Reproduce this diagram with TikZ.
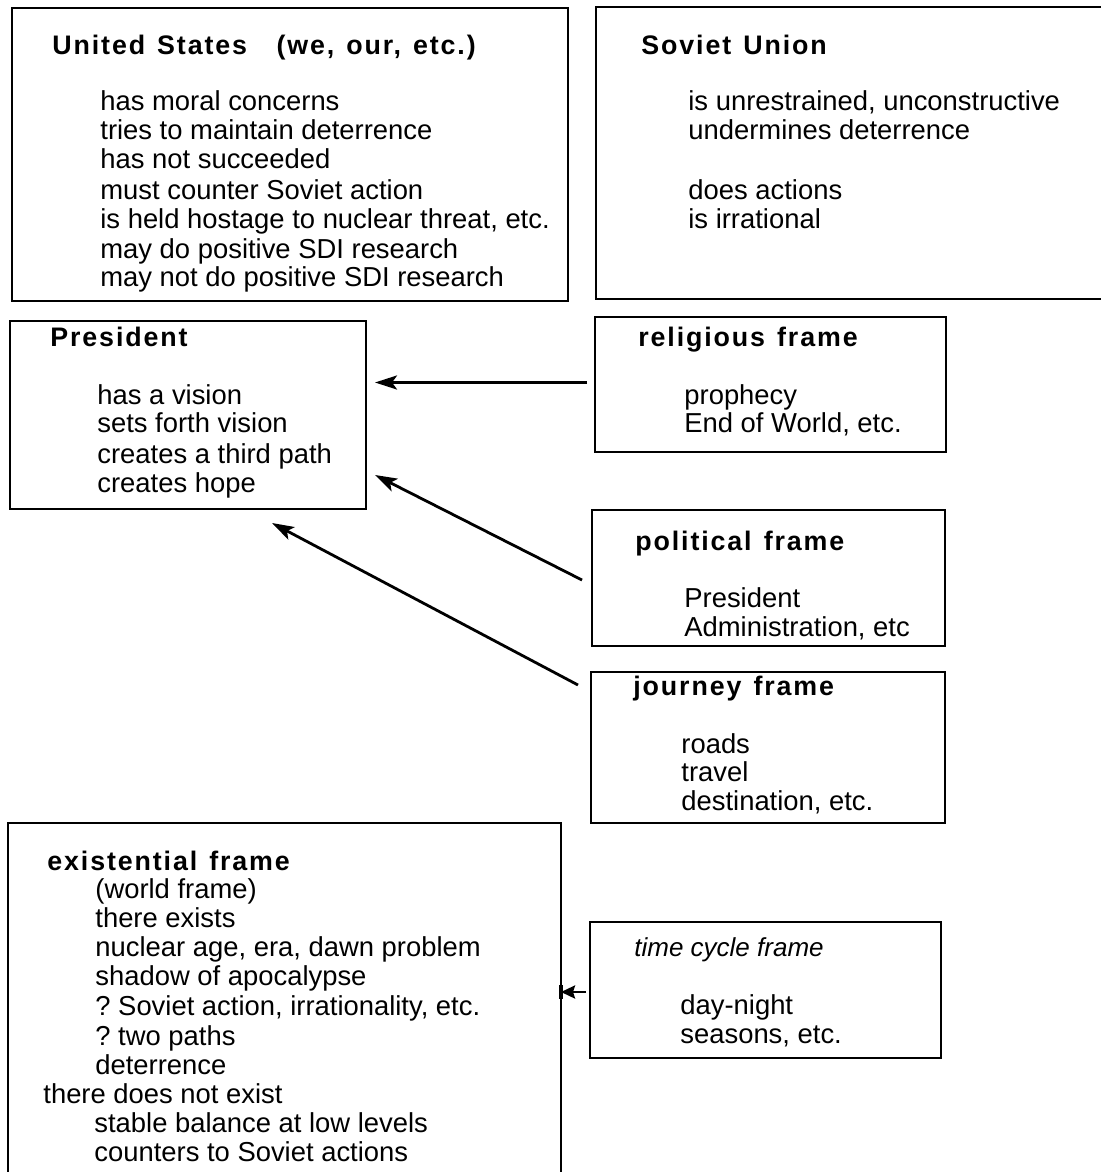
\documentclass[tikz,border=0pt]{standalone}
\usepackage{fontspec}
\setmainfont{Liberation Sans}
\newfontfamily\ttlfont[LetterSpace=7]{Liberation Sans}
\usetikzlibrary{arrows.meta,calc}
\frenchspacing
\tikzset{
  frame/.style={draw, line width=1pt, anchor=north west, inner sep=0pt, outer sep=0pt},
  txt/.style={anchor=base west, inner sep=0pt, font=\fontsize{13.7}{15}\selectfont},
  ttl/.style={anchor=base west, inner sep=0pt, font=\ttlfont\bfseries\fontsize{13.4}{15}\selectfont},
  ittl/.style={anchor=base west, inner sep=0pt, font=\itshape\fontsize{13}{15}\selectfont},
  arr/.style={line width=1.4pt, -{Stealth[length=11pt,width=7pt,inset=2.5pt]}},
  sarr/.style={line width=1.4pt, -{Stealth[length=7pt,width=6.5pt,inset=1pt]}}
}
\begin{document}
\begin{tikzpicture}[x=0.5pt,y=-0.5pt]
\useasboundingbox (0,0) rectangle (1100,1172);
% boxes
\node[frame, minimum width=278pt, minimum height=146.5pt] (us) at (12,8) {};
\node[frame, minimum width=257pt, minimum height=146pt] (su) at (596,7) {};
\node[frame, minimum width=178pt, minimum height=94pt] (pres) at (10,321) {};
\node[frame, minimum width=175.5pt, minimum height=67.5pt] (rel) at (595,317) {};
\node[frame, minimum width=176.5pt, minimum height=68pt] (pol) at (592,510) {};
\node[frame, minimum width=177pt, minimum height=75.5pt] (jour) at (591,672) {};
\node[frame, minimum width=276.5pt, minimum height=181pt] (ex) at (8,823) {};
\node[frame, minimum width=175.5pt, minimum height=68pt] (time) at (590,922) {};
% United States
\node[ttl] (us-t) at (52,55) {United\hspace{.45em}States\hspace{1.1em}(we,\hspace{.45em}our,\hspace{.45em}etc.)};
\node[txt] (us-1) at (100,111) {has moral concerns};
\node[txt] (us-2) at (100,140) {tries to maintain deterrence};
\node[txt] (us-3) at (100,169) {has not succeeded};
\node[txt] (us-4) at (100,199) {must counter Soviet action};
\node[txt] (us-5) at (100,228) {is held hostage to nuclear threat, etc.};
\node[txt] (us-6) at (100,258) {may do positive SDI research};
\node[txt] (us-7) at (100,286) {may not do positive SDI research};
% Soviet Union
\node[ttl] (su-t) at (641,55) {Soviet\hspace{.45em}Union};
\node[txt] (su-1) at (688,111) {is unrestrained, unconstructive};
\node[txt] (su-2) at (688,140) {undermines deterrence};
\node[txt] (su-3) at (688,199) {does actions};
\node[txt] (su-4) at (688,228) {is irrational};
% President
\node[ttl] (pres-t) at (50,346) {President};
\node[txt] (pres-1) at (97,404) {has a vision};
\node[txt] (pres-2) at (97,432) {sets forth vision};
\node[txt] (pres-3) at (97,463) {creates a third path};
\node[txt] (pres-4) at (97,492) {creates hope};
% religious
\node[ttl] (rel-t) at (638,346) {religious\hspace{.45em}frame};
\node[txt] (rel-1) at (684,404) {prophecy};
\node[txt] (rel-2) at (684,432) {End of World, etc.};
% political
\node[ttl] (pol-t) at (635,550) {political\hspace{.45em}frame};
\node[txt] (pol-1) at (684,607) {President};
\node[txt] (pol-2) at (684,636) {Administration, etc};
% journey
\node[ttl] (jour-t) at (633,695) {journey\hspace{.45em}frame};
\node[txt] (jour-1) at (681,753) {roads};
\node[txt] (jour-2) at (681,781) {travel};
\node[txt] (jour-3) at (681,810) {destination, etc.};
% existential
\node[ttl] (ex-t) at (47,870) {existential\hspace{.45em}frame};
\node[txt] (ex-1) at (95,898) {(world frame)};
\node[txt] (ex-2) at (95,927) {there exists};
\node[txt] (ex-3) at (95,956) {nuclear age, era, dawn problem};
\node[txt] (ex-4) at (95,985) {shadow of apocalypse};
\node[txt] (ex-5) at (95,1015) {? Soviet action, irrationality, etc.};
\node[txt] (ex-6) at (95,1045) {? two paths};
\node[txt] (ex-7) at (95,1074) {deterrence};
\node[txt] (ex-8) at (43,1103) {there does not exist};
\node[txt] (ex-9) at (94,1132) {stable balance at low levels};
\node[txt] (ex-10) at (94,1161) {counters to Soviet actions};
% time cycle
\node[ittl] (time-t) at (634,956) {time cycle frame};
\node[txt] (time-1) at (680,1014) {day-night};
\node[txt] (time-2) at (680,1043) {seasons, etc.};
% connectors
\draw[arr] ($(rel.west)+(-8,-2)$) -- ($(rel.west -| pres.east)+(9,-2)$);
\draw[arr] ($(pol.west)+(-10,2)$) -- ($(pres.south east)+(9,-34)$);
\draw[arr] ($(jour.north west)+(-13,13)$) -- ($(pres.south east)+(-94,14)$);
\draw[sarr] ($(time.west)+(-4,2)$) -- ($(time.west -| ex.east)+(0,2)$);
\draw[line width=1.6pt] ($(time.west -| ex.east)+(0,-5)$) -- ++(0,14);
\end{tikzpicture}
\end{document}
